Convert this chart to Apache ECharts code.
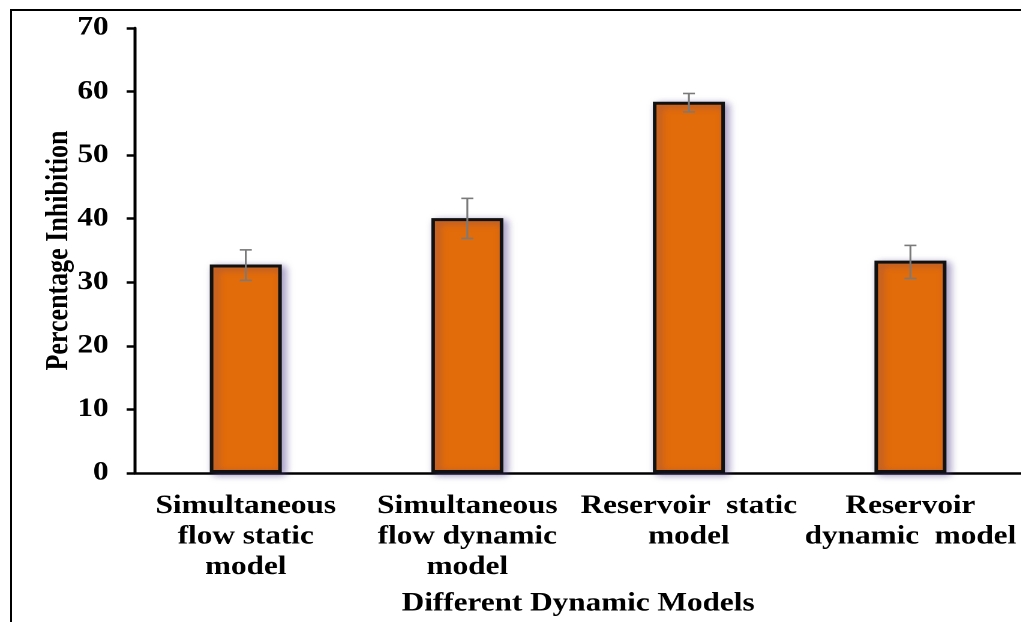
<!DOCTYPE html>
<html>
<head>
<meta charset="utf-8">
<script src="https://cdn.jsdelivr.net/npm/echarts@6/dist/echarts.min.js"></script>
<style>
  html, body { margin: 0; padding: 0; background: #fff; overflow: hidden; }
  #wrap { position: relative; width: 1021px; height: 622px; overflow: hidden; background: #fff; }
  #chart { position: absolute; left: 0; top: 0; width: 851px; height: 622px; transform: scaleX(1.2); transform-origin: 0 0; }
  #frame { position: absolute; left: 10px; top: 9px; width: 1030px; height: 640px; border-left: 2px solid #000; border-top: 2px solid #000; pointer-events: none; }
</style>
</head>
<body>
<div id="wrap">
  <div id="chart"></div>
  <div id="frame"></div>
</div>
<script>
const categories = [
  'Simultaneous\nflow static\nmodel',
  'Simultaneous\nflow dynamic\nmodel',
  'Reservoir  static\nmodel',
  'Reservoir\ndynamic  model'
];
const inhibition = [32.8, 40.1, 58.4, 33.4];
const errorLow = [30.3, 36.9, 56.8, 30.6];
const errorHigh = [35.1, 43.2, 59.7, 35.8];
const yTicks = [0, 10, 20, 30, 40, 50, 60, 70];

const FONT = '"Liberation Serif", "Times New Roman", serif';
const chart = echarts.init(document.getElementById('chart'), null, { renderer: 'canvas', devicePixelRatio: 2 });

const errData = categories.map((c, i) => [i, errorLow[i], errorHigh[i]]);

chart.setOption({
  animation: false,
  backgroundColor: 'transparent',
  grid: { left: 112.5, top: 28, width: 740, bottom: 148, containLabel: false },
  xAxis: {
    type: 'category',
    data: categories,
    name: 'Different Dynamic Models',
    nameLocation: 'middle',
    nameGap: 118,
    nameMoveOverlap: false,
    nameTextStyle: { fontFamily: FONT, fontWeight: 'bold', fontSize: 26, color: '#000' },
    axisLine: { lineStyle: { color: '#000', width: 2.5 } },
    axisTick: { show: false },
    axisLabel: {
      interval: 0, margin: 18, hideOverlap: false,
      fontFamily: FONT, fontWeight: 'bold', fontSize: 26, lineHeight: 30.5, color: '#000', align: 'center'
    },
    splitLine: { show: false }
  },
  yAxis: {
    type: 'value',
    min: yTicks[0], max: yTicks[yTicks.length - 1], interval: 10,
    name: 'Percentage Inhibition',
    nameLocation: 'middle',
    nameGap: 50,
    nameRotate: 90,
    nameMoveOverlap: false,
    nameTextStyle: { fontFamily: FONT, fontWeight: 'bold', fontSize: 26, color: '#000' },
    axisLine: { show: true, lineStyle: { color: '#000', width: 2.5 } },
    axisTick: { show: true, length: 7, lineStyle: { color: '#000', width: 2.5 } },
    axisLabel: { margin: 22, fontFamily: FONT, fontWeight: 'bold', fontSize: 26, color: '#000' },
    splitLine: { show: false }
  },
  series: [
    {
      type: 'bar',
      data: inhibition,
      barWidth: '32.5%',
      itemStyle: {
        color: '#E36C0A',
        borderColor: '#111',
        borderWidth: 3,
        shadowColor: 'rgba(80,60,140,0.5)',
        shadowBlur: 7,
        shadowOffsetX: 3,
        shadowOffsetY: 2
      },
      z: 2
    },
    {
      type: 'custom',
      data: errData,
      z: 5,
      renderItem: function (params, api) {
        const x = api.value(0);
        const lo = api.coord([x, api.value(1)]);
        const hi = api.coord([x, api.value(2)]);
        const half = 5;
        const style = { stroke: '#7a7a7a', lineWidth: 1.6 };
        return {
          type: 'group',
          children: [
            { type: 'line', shape: { x1: hi[0], y1: hi[1], x2: lo[0], y2: lo[1] }, style: style },
            { type: 'line', shape: { x1: hi[0] - half, y1: hi[1], x2: hi[0] + half, y2: hi[1] }, style: style },
            { type: 'line', shape: { x1: lo[0] - half, y1: lo[1], x2: lo[0] + half, y2: lo[1] }, style: style }
          ]
        };
      }
    }
  ]
});
</script>
</body>
</html>
